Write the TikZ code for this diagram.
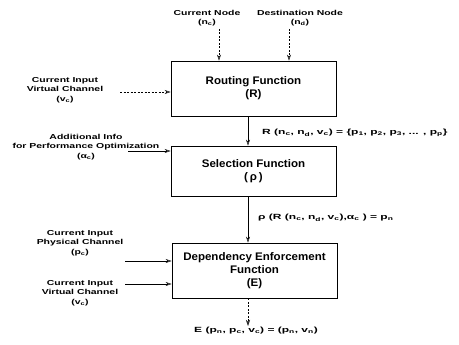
\documentclass[tikz,border=0pt]{standalone}
\usepackage{fontspec}
\setmainfont{Liberation Sans}[FakeStretch=1.45,BoldFont={* Bold}]
\newfontfamily\boxfont{Liberation Sans}[FakeStretch=1.05,BoldFont={* Bold}]
\newfontfamily\eqfont{Liberation Sans}[FakeStretch=1.6,BoldFont={* Bold}]
\usetikzlibrary{arrows.meta}
\newcommand{\sbx}[1]{\textsubscript{#1}}
\begin{document}
\begin{tikzpicture}[x=1pt,y=-1pt,
  lab/.style={font=\fontsize{7.2}{9.5}\selectfont\bfseries,align=center,inner sep=0pt},
  eqn/.style={font=\eqfont\fontsize{7.5}{9}\selectfont\bfseries,inner sep=0pt,anchor=west},
  fbox/.style={draw,line width=0.6pt,minimum width=165pt,align=center,font=\boxfont\fontsize{11}{13}\selectfont\bfseries,inner sep=0pt},
  arr/.style={-{Stealth[length=6pt,width=4pt,open]},line width=0.5pt},
  darr/.style={arr,dash pattern=on 2pt off 1.5pt}]
\useasboundingbox (0,0) rectangle (459,345);
% boxes
\node[fbox,minimum height=55pt] (R) at (253.5,88.5) {Routing Function\\(R)};
\node[fbox,minimum height=50pt] (S) at (253.5,171) {Selection Function\\(\,ρ\,)};
\node[fbox,minimum height=55pt] (E) at (254.5,270.5) {Dependency Enforcement\\Function\\(E)};
% top inputs
\node[lab] (cn) at (207,18) {Current Node\\(n\sbx{c})};
\node[lab] (dn) at (300,18) {Destination Node\\(n\sbx{d})};
\coordinate (cnt) at (219,29);
\coordinate (dnt) at (289,29);
\draw[darr] (cnt) -- (cnt |- R.north);
\draw[darr] (dnt) -- (dnt |- R.north);
% left inputs
\node[lab] (vc1) at (65,90) {Current Input\\Virtual Channel\\(v\sbx{c})};
\coordinate (vc1e) at (120,92);
\draw[darr] (vc1e) -- (vc1e -| R.west);
\node[lab] (ai) at (86,147) {Additional Info\\for Performance Optimization\\(α\sbx{c})};
\coordinate (aie) at (128,151);
\draw[arr] (aie) -- (aie -| S.west);
\node[lab] (pc) at (80,243) {Current Input\\Physical Channel\\(p\sbx{c})};
\coordinate (pce) at (125,261);
\draw[arr] (pce) -- (pce -| E.west);
\node[lab] (vc2) at (80,293) {Current Input\\Virtual Channel\\(v\sbx{c})};
\coordinate (vc2e) at (125,284);
\draw[arr] (vc2e) -- (vc2e -| E.west);
% vertical flow
\coordinate (x0) at (248,0);
\draw[arr] (x0 |- R.south) -- (x0 |- S.north);
\draw[arr] (x0 |- S.south) -- (x0 |- E.north);
\coordinate (out) at (248,326);
\draw[darr] (x0 |- E.south) -- (out);
% equations
\node[eqn] (eq1) at (262,133) {R (n\sbx{c}, n\sbx{d}, v\sbx{c}) = \{p\sbx{1}, p\sbx{2}, p\sbx{3}, ... , p\sbx{p}\}};
\node[eqn] (eq2) at (258,218) {ρ (R (n\sbx{c}, n\sbx{d}, v\sbx{c}),α\sbx{c} ) = p\sbx{n}};
\node[eqn,anchor=center] (eq3) at (256,331) {E (p\sbx{n}, p\sbx{c}, v\sbx{c}) = (p\sbx{n}, v\sbx{n})};
\end{tikzpicture}
\end{document}
